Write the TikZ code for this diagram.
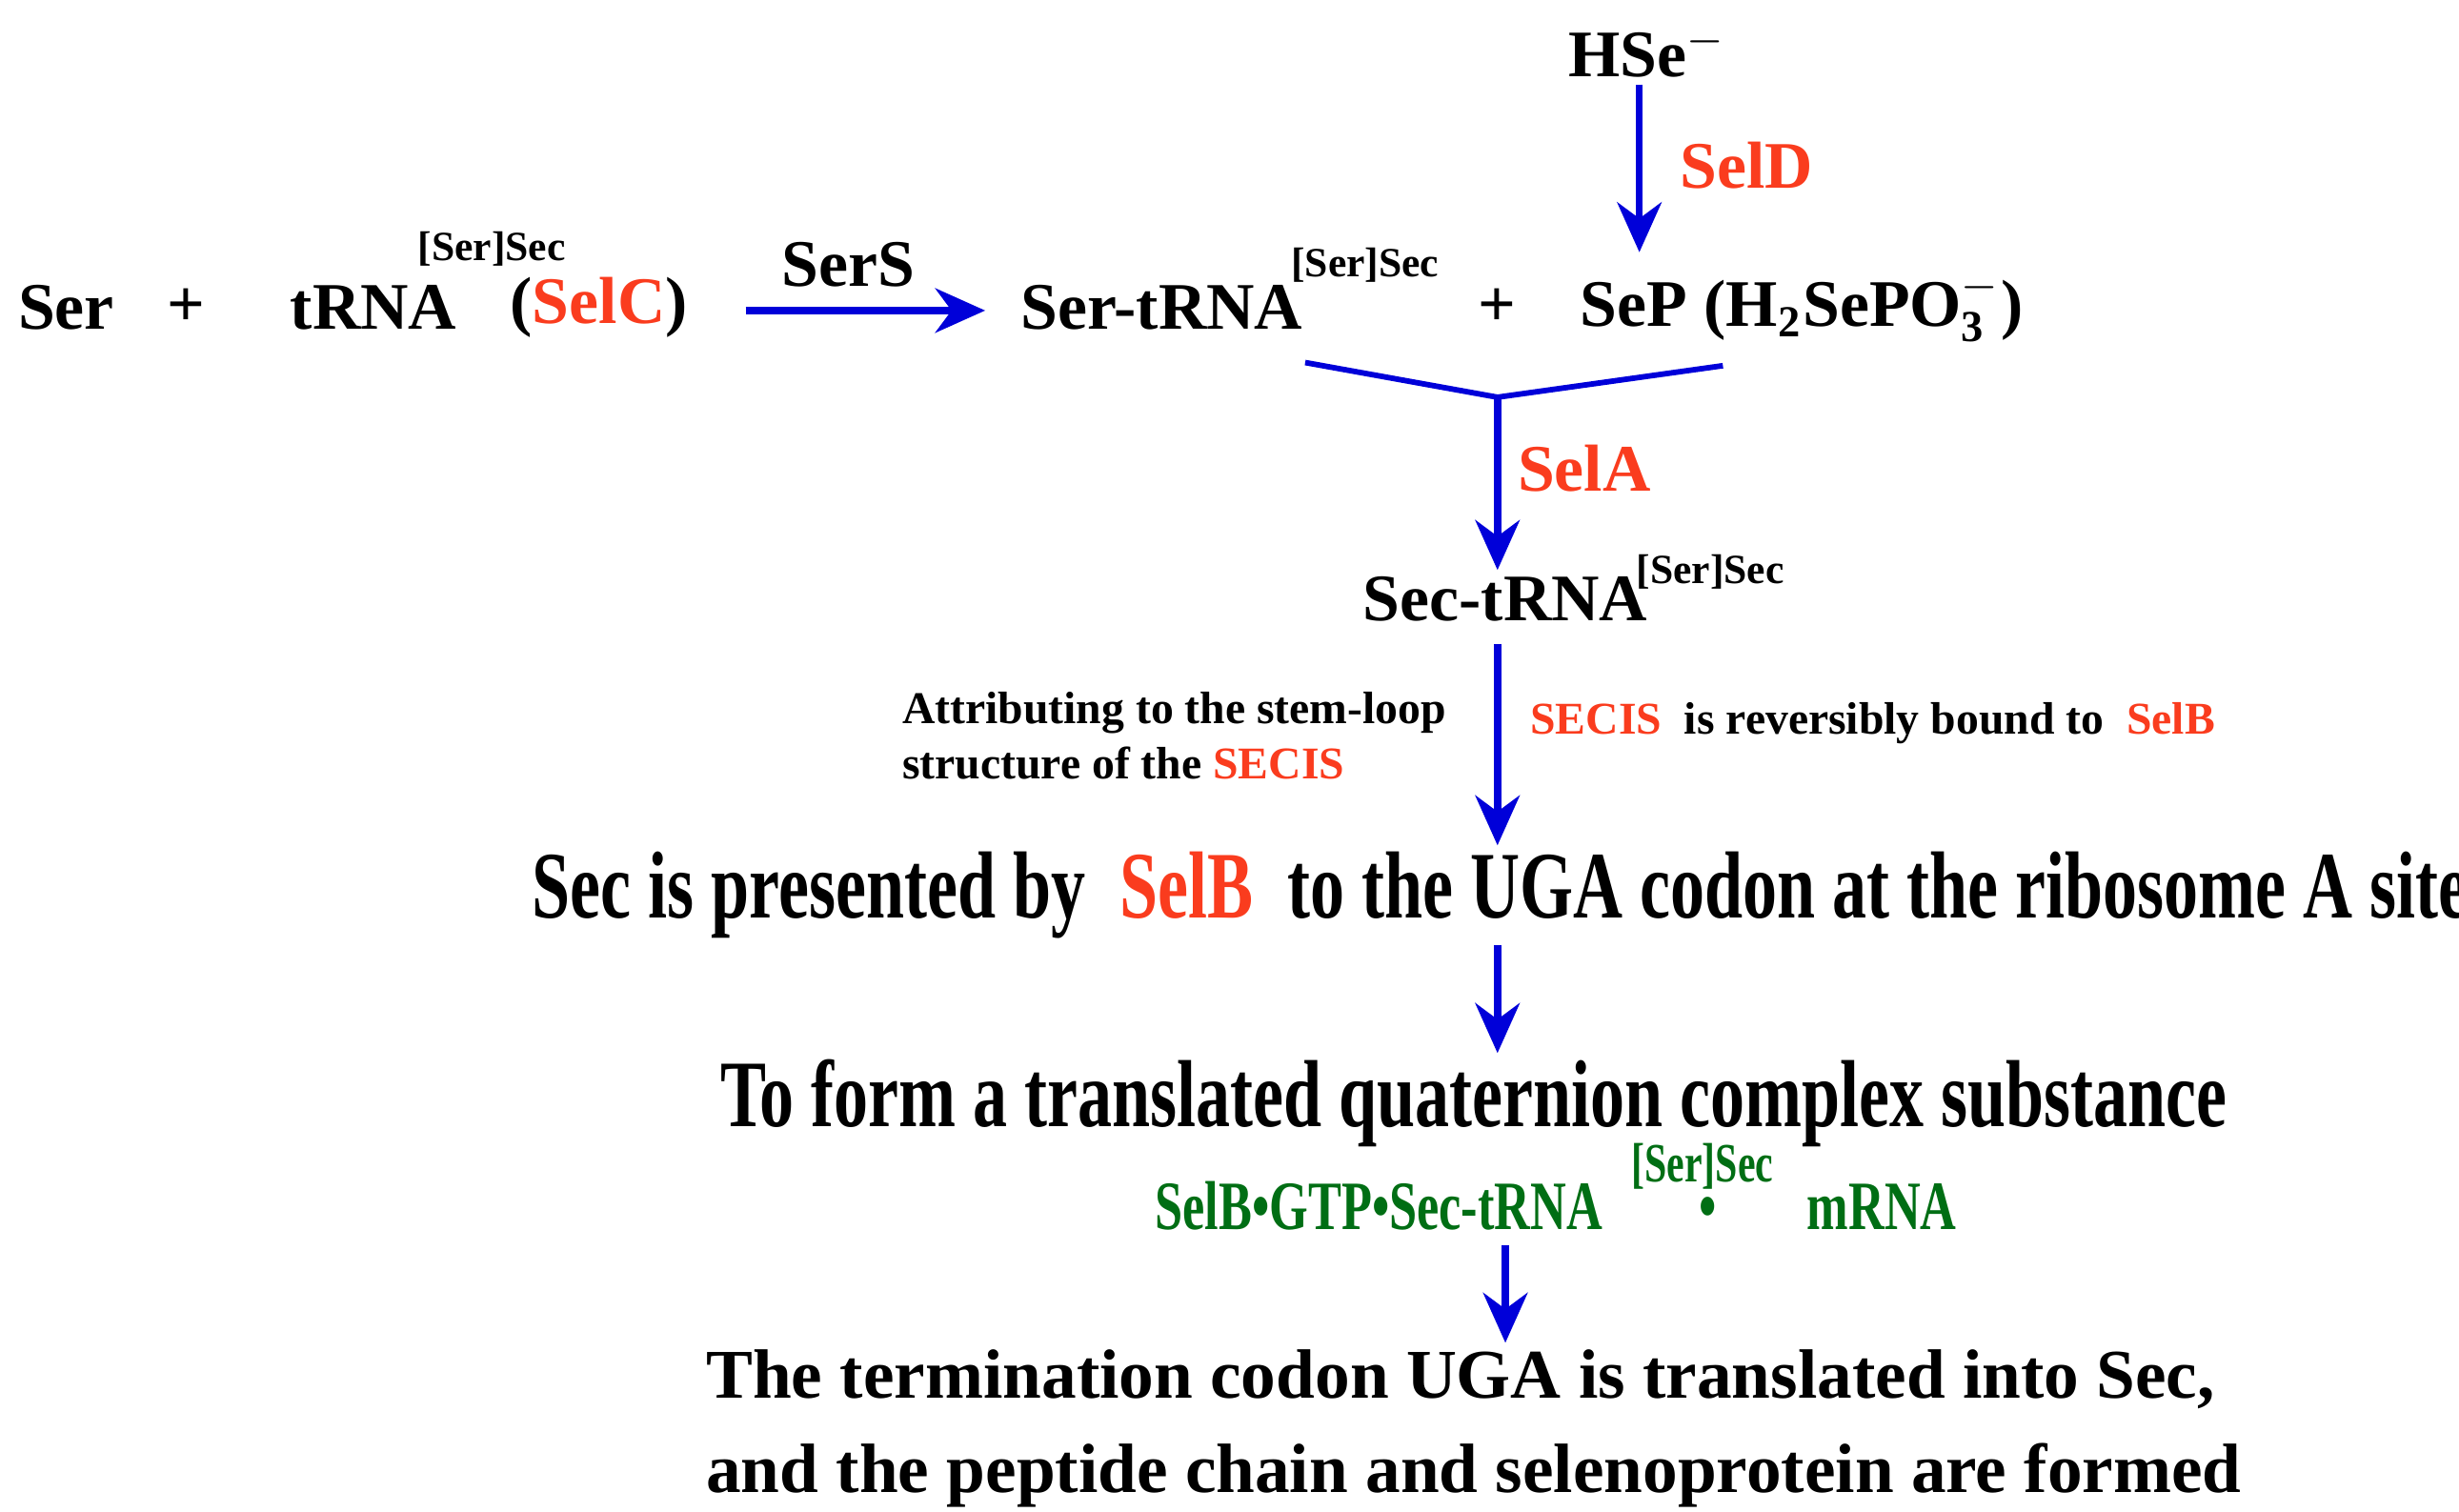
\documentclass[tikz,border=0pt]{standalone}
\usepackage{fontspec}
\setmainfont{Liberation Serif}
\newfontfamily\narrowfont{Liberation Serif}[FakeStretch=0.72]
\usetikzlibrary{arrows.meta,positioning}
\definecolor{selred}{RGB}{250,60,30}
\definecolor{selgreen}{RGB}{0,110,20}
\tikzset{
  flow/.style = {draw=blue!85!black, line width=1.3pt, -{Stealth[length=9pt,width=8pt]}},
  txt/.style = {inner sep=1pt, font=\bfseries\fontsize{12}{14}\selectfont},
  sup/.style = {inner sep=0pt, font=\bfseries\fontsize{7.5}{9}\selectfont},
  enz/.style = {inner sep=1pt, text=selred, font=\bfseries\fontsize{12}{14}\selectfont},
  note/.style = {inner sep=1pt, align=left, font=\bfseries\fontsize{8.2}{10}\selectfont},
  big/.style = {inner sep=1pt, font=\narrowfont\bfseries\fontsize{17.2}{20}\selectfont}
}
\newcommand{\rd}[1]{\textcolor{selred}{#1}}
\begin{document}
\begin{tikzpicture}
\useasboundingbox (0,0) rectangle (15.6,-9.59);
% first row
\node[txt] (ser) at (0.42,-1.95) {Ser};
\node[txt] (plus1) at (1.18,-1.95) {+};
\node[txt] (trna) at (2.37,-1.95) {tRNA};
\node[sup] (trnasup) at (3.12,-1.58) {[Ser]Sec};
\node[txt] (selc) at (3.80,-1.95) {(\rd{SelC})};
\node[txt] (sers) at (5.38,-1.68) {SerS};
\node[txt] (sertrna) at (7.37,-1.95) {Ser-tRNA};
\node[sup] (sertrnasup) at (8.66,-1.68) {[Ser]Sec};
\node[txt] (plus2) at (9.50,-1.95) {+};
\node[txt] (sep) at (11.43,-1.95) {SeP (H\textsubscript{\normalfont\bfseries 2}SePO$_{\mathbf{3}}^{\mathbf{-}}$)};
\node[txt] (hse) at (10.45,-0.33) {HSe$^{\mathbf{-}}$};
\node[enz] (seld) at (11.08,-1.05) {SelD};
\coordinate (serSa) at (4.73,-1.97);
\coordinate (serSb) at (6.25,-1.97);
\draw[flow] (serSa) -- (serSb);
\coordinate (hseb) at (10.40,-1.60);
\draw[flow] (hse.south -| hseb) -- (hseb);
% joining lines
\coordinate (joinl) at (8.28,-2.30);
\coordinate (join) at (9.50,-2.52);
\coordinate (joinr) at (10.93,-2.32);
\draw[blue!85!black, line width=1pt] (joinl) -- (join) -- (joinr);
\node[enz] (sela) at (10.05,-2.97) {SelA};
\node[txt] (sectrna) at (9.55,-3.80) {Sec-tRNA};
\node[sup] (sectrnasup) at (10.85,-3.63) {[Ser]Sec};
\draw[flow] (join) -- (join |- sectrna.north);
% SECIS notes
\node[note] (stem) at (7.45,-4.67) {Attributing to the stem-loop\\structure of the \rd{SECIS}};
\node[note] (revers) at (11.88,-4.59) {\rd{SECIS}~ is reversibly bound to ~\rd{SelB}};
\node[big] (present) at (9.52,-5.68) {Sec is presented by ~\textcolor{selred}{SelB}~ to the UGA codon at the ribosome A site};
\draw[flow] (join |- sectrna.south) ++(0,-0.1) -- (join |- present.north);
\node[big] (form) at (9.35,-7.00) {To form a translated quaternion complex substance};
\draw[flow] (present.south -| join) -- (form.north -| join);
\node[inner sep=1pt, text=selgreen, font=\narrowfont\bfseries\fontsize{12.5}{15}\selectfont] (cplx) at (9.87,-7.65) {SelB\textbullet GTP\textbullet Sec-tRNA\hspace{1.4em}\textbullet\hspace{1.3em}mRNA};
\node[sup, text=selgreen, font=\narrowfont\bfseries\fontsize{10}{12}\selectfont] (cplxsup) at (10.80,-7.40) {[Ser]Sec};
\node[txt, align=left, font=\bfseries\fontsize{12.6}{17}\selectfont] (final) at (9.35,-9.06) {The termination codon UGA is translated into Sec,\\and the peptide chain and selenoprotein are formed};
\coordinate (cplxs) at (9.55,-7.90);
\draw[flow] (cplxs) -- (cplxs |- final.north);
\end{tikzpicture}
\end{document}
